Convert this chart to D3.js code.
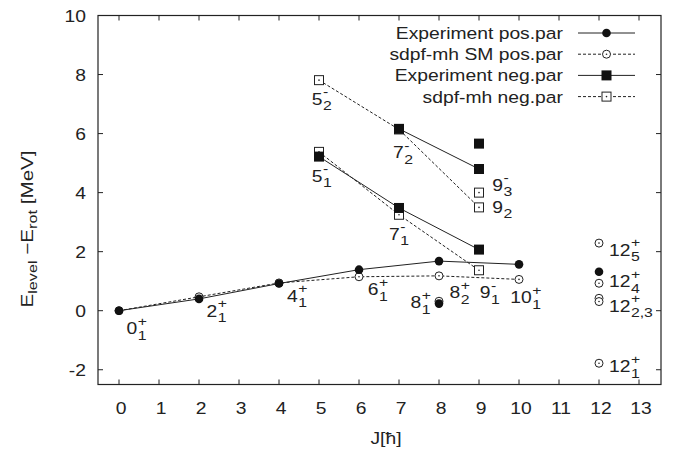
<!DOCTYPE html>
<html>
<head>
<meta charset="utf-8">
<script src="https://d3js.org/d3.v7.min.js"></script>
<style>
  body { margin: 0; background: #fff; }
  text { font-family: "Liberation Sans", Arial, sans-serif; fill: #222; }
</style>
</head>
<body>
<div id="chart"></div>
<script>
// bands (connected levels)
const expPosJ = [0, 2, 4, 6, 8, 10];
const expPosE = [0, 0.4, 0.92, 1.39, 1.68, 1.57];
const smPosJ = [0, 2, 4, 6, 8, 10];
const smPosE = [0, 0.47, 0.94, 1.15, 1.18, 1.06];
const expNeg1J = [5, 7, 9];
const expNeg1E = [5.22, 3.48, 2.07];
const expNeg2J = [7, 9];
const expNeg2E = [6.16, 4.8];
const smNeg1J = [5, 7, 9];
const smNeg1E = [5.38, 3.25, 1.37];
const smNeg2J = [5, 7, 9];
const smNeg2E = [7.81, 6.14, 3.5];

// isolated levels
const expPosExtraJ = [8, 12];
const expPosExtraE = [0.24, 1.32];
const smPosExtraJ = [8, 12, 12, 12, 12, 12];
const smPosExtraE = [0.32, 2.29, 0.93, 0.42, 0.31, -1.78];
const expNegExtraJ = [9];
const expNegExtraE = [5.66];
const smNegExtraJ = [9];
const smNegExtraE = [4.0];

// state labels: spin, index, parity, placed at (J, E)
const labelSpin = ["0", "2", "4", "6", "8", "8", "9", "10", "12", "12", "12", "12", "9", "9", "5", "7", "5", "7"];
const labelSub = ["1", "1", "1", "1", "1", "2", "1", "1", "5", "4", "2,3", "1", "3", "2", "2", "2", "1", "1"];
const labelSup = ["+", "+", "+", "+", "+", "+", "-", "+", "+", "+", "+", "+", "-", "", "-", "-", "-", "-"];
const labelJ = [0.19, 2.19, 4.2, 6.22, 7.29, 8.26, 9.02, 9.78, 12.25, 12.25, 12.25, 12.25, 9.33, 9.33, 4.82, 6.85, 4.82, 6.75];
const labelE = [-0.79, -0.2, 0.31, 0.53, 0.08, 0.42, 0.42, 0.25, 1.86, 0.8, -0.04, -2.08, 4.06, 3.31, 6.97, 5.17, 4.37, 2.4];

const xTicks = d3.range(0, 14);
const yTicks = [-2, 0, 2, 4, 6, 8, 10];
const legendNames = ["Experiment pos.par", "sdpf-mh SM pos.par", "Experiment neg.par", "sdpf-mh neg.par"];

const W = 680, H = 455;
const SX = 1.17; // text in the original is drawn a bit wide
const FS = 16.5;
const x = d3.scaleLinear().domain([-0.525, 13.55]).range([98, 661]);
const y = d3.scaleLinear().domain([-2.5, 10]).range([384.5, 15.5]);

const svg = d3.select("#chart").append("svg")
    .attr("width", W).attr("height", H);

const zip = (js, es) => js.map((j, i) => ({j: j, e: es[i]}));

function stext(parent, tx, ty, str, size, anchor) {
  return parent.append("text")
    .attr("transform", "translate(" + tx + "," + ty + ") scale(" + SX + ",1)")
    .attr("text-anchor", anchor || "start")
    .attr("font-size", size).text(str);
}

// frame + ticks (gnuplot style, inward on all sides)
const ax = svg.append("g");
const [x0, x1] = x.range(), [y0, y1] = y.range();
ax.append("rect")
    .attr("x", x0).attr("y", y1).attr("width", x1 - x0).attr("height", y0 - y1)
    .attr("fill", "none").attr("stroke", "#222").attr("stroke-width", 1.2);

xTicks.forEach(t => {
  ax.append("line").attr("x1", x(t)).attr("x2", x(t))
    .attr("y1", y0).attr("y2", y0 - 5).attr("stroke", "#222");
  ax.append("line").attr("x1", x(t)).attr("x2", x(t))
    .attr("y1", y1).attr("y2", y1 + 5).attr("stroke", "#222");
  stext(ax, x(t) + 2, 414, t, FS, "middle");
});
yTicks.forEach(t => {
  ax.append("line").attr("x1", x0).attr("x2", x0 + 5)
    .attr("y1", y(t)).attr("y2", y(t)).attr("stroke", "#222");
  ax.append("line").attr("x1", x1).attr("x2", x1 - 5)
    .attr("y1", y(t)).attr("y2", y(t)).attr("stroke", "#222");
  stext(ax, 86, y(t) + 6, t, FS, "end");
});

// axis titles
stext(ax, 386, 444, "J[ħ]", FS, "middle");

const yt = ax.append("text")
  .attr("transform", "translate(33,229) rotate(-90) scale(1.25,1)")
  .attr("text-anchor", "middle").attr("font-size", FS);
yt.append("tspan").text("E");
yt.append("tspan").attr("font-size", 13).attr("dy", 4).text("level");
yt.append("tspan").attr("dy", -4).text(" −E");
yt.append("tspan").attr("font-size", 13).attr("dy", 4).text("rot");
yt.append("tspan").attr("dy", -4).text(" [MeV]");

// lines
const line = d3.line().x(d => x(d.j)).y(d => y(d.e));
const plot = svg.append("g");
function band(js, es, dashed) {
  plot.append("path").datum(zip(js, es))
    .attr("d", line).attr("fill", "none").attr("stroke", "#222")
    .attr("stroke-width", 1)
    .attr("stroke-dasharray", dashed ? "3,2" : null);
}
band(smPosJ, smPosE, true);
band(expPosJ, expPosE, false);
band(smNeg1J, smNeg1E, true);
band(smNeg2J, smNeg2E, true);
band(expNeg1J, expNeg1E, false);
band(expNeg2J, expNeg2E, false);

// markers
function openCircle(g, cx, cy) {
  g.append("circle").attr("cx", cx).attr("cy", cy).attr("r", 4)
    .attr("fill", "#fff").attr("stroke", "#222").attr("stroke-width", 1);
  g.append("circle").attr("cx", cx).attr("cy", cy).attr("r", 0.8).attr("fill", "#222");
}
function fillCircle(g, cx, cy) {
  g.append("circle").attr("cx", cx).attr("cy", cy).attr("r", 4.3).attr("fill", "#111");
}
function openSquare(g, cx, cy) {
  g.append("rect").attr("x", cx - 4.5).attr("y", cy - 4.5).attr("width", 9).attr("height", 9)
    .attr("fill", "#fff").attr("stroke", "#222").attr("stroke-width", 1);
  g.append("circle").attr("cx", cx).attr("cy", cy).attr("r", 0.8).attr("fill", "#222");
}
function fillSquare(g, cx, cy) {
  g.append("rect").attr("x", cx - 5).attr("y", cy - 5).attr("width", 10).attr("height", 10)
    .attr("fill", "#111");
}
function marks(js, es, fn) {
  zip(js, es).forEach(d => fn(plot, x(d.j), y(d.e)));
}
marks(smPosJ, smPosE, openCircle);
marks(smPosExtraJ, smPosExtraE, openCircle);
marks(expPosJ, expPosE, fillCircle);
marks(expPosExtraJ, expPosExtraE, fillCircle);
marks(smNeg1J, smNeg1E, openSquare);
marks(smNeg2J, smNeg2E, openSquare);
marks(smNegExtraJ, smNegExtraE, openSquare);
marks(expNeg1J, expNeg1E, fillSquare);
marks(expNeg2J, expNeg2E, fillSquare);
marks(expNegExtraJ, expNegExtraE, fillSquare);

// state labels
const lab = svg.append("g");
labelSpin.forEach((s, i) => {
  const lx = x(labelJ[i]), ly = y(labelE[i]);
  const t = stext(lab, lx, ly, s, FS);
  const w = t.node().getComputedTextLength() * SX + 0.5;
  if (labelSup[i]) stext(lab, lx + w, ly - 8.5, labelSup[i], 13.5);
  stext(lab, lx + w, ly + 5.5, labelSub[i], 13.5);
});

// legend
const leg = svg.append("g");
const legRows = [
  {dash: false, fn: fillCircle},
  {dash: true, fn: openCircle},
  {dash: false, fn: fillSquare},
  {dash: true, fn: openSquare}
];
legendNames.forEach((name, i) => {
  const cy = 33 + i * 21.2;
  stext(leg, 563, cy + 6, name, FS, "end");
  leg.append("line").attr("x1", 578).attr("x2", 635).attr("y1", cy).attr("y2", cy)
    .attr("stroke", "#222").attr("stroke-dasharray", legRows[i].dash ? "3,2" : null);
  legRows[i].fn(leg, 606.5, cy);
});
</script>
</body>
</html>
